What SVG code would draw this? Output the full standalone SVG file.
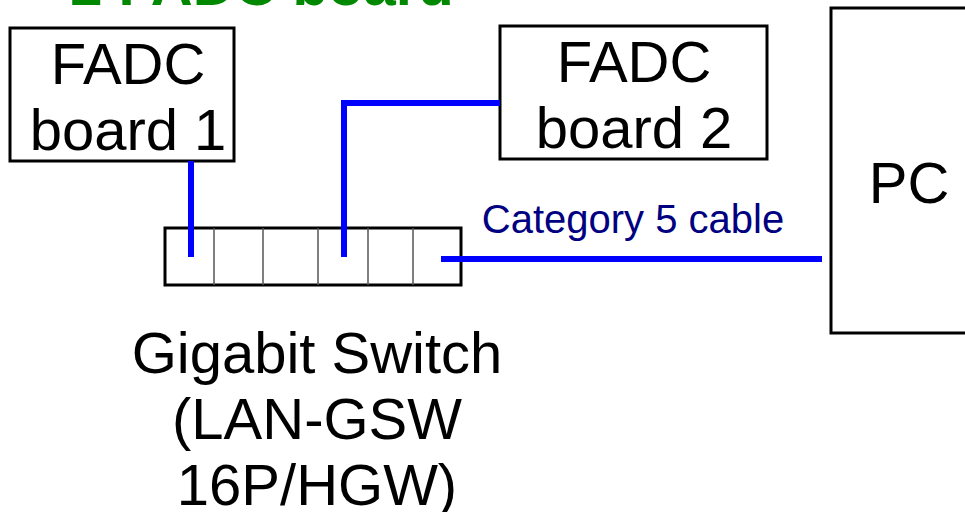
<svg xmlns="http://www.w3.org/2000/svg" width="965" height="512" viewBox="0 0 965 512">
<style>
.box{fill:#fff;stroke:#000;stroke-width:3}
.t{font-family:"Liberation Sans",Arial,sans-serif;font-size:58px;fill:#000;text-anchor:middle}
.div{stroke:#555;stroke-width:1.5}
.cable{fill:none;stroke:#0000ff;stroke-width:6}
</style>
<rect width="965" height="512" fill="#fff"/>
<text x="262" y="5" font-family="Liberation Sans,Arial,sans-serif" font-weight="bold" font-size="58" fill="#008800" text-anchor="middle">2 FADC board</text>
<g id="fadc1">
<rect class="box" x="10" y="28" width="224" height="133"/>
<text class="t" x="128" y="84">FADC</text>
<text class="t" x="128" y="150">board 1</text>
</g>
<g id="fadc2">
<rect class="box" x="500" y="26" width="267" height="133"/>
<text class="t" x="634" y="82">FADC</text>
<text class="t" x="634" y="148">board 2</text>
</g>
<g id="pc">
<rect class="box" x="831" y="8" width="150" height="325"/>
<text class="t" x="909" y="203">PC</text>
</g>
<g id="switch">
<rect class="box" x="165" y="228" width="296" height="57"/>
<line class="div" x1="214" y1="228" x2="214" y2="285"/>
<line class="div" x1="263" y1="228" x2="263" y2="285"/>
<line class="div" x1="318" y1="228" x2="318" y2="285"/>
<line class="div" x1="368" y1="228" x2="368" y2="285"/>
<line class="div" x1="413" y1="228" x2="413" y2="285"/>
<text class="t" x="317" y="373">Gigabit Switch</text>
<text class="t" x="317" y="439">(LAN-GSW</text>
<text class="t" x="317" y="505">16P/HGW)</text>
</g>
<g id="connectors">
<polyline class="cable" points="191,161 191,257"/>
<polyline class="cable" points="344,257 344,103 500,103"/>
<polyline class="cable" points="441,259 822,259"/>
<text x="633" y="233" font-family="Liberation Sans,Arial,sans-serif" font-size="40" fill="#000080" text-anchor="middle">Category 5 cable</text>
</g>
</svg>
